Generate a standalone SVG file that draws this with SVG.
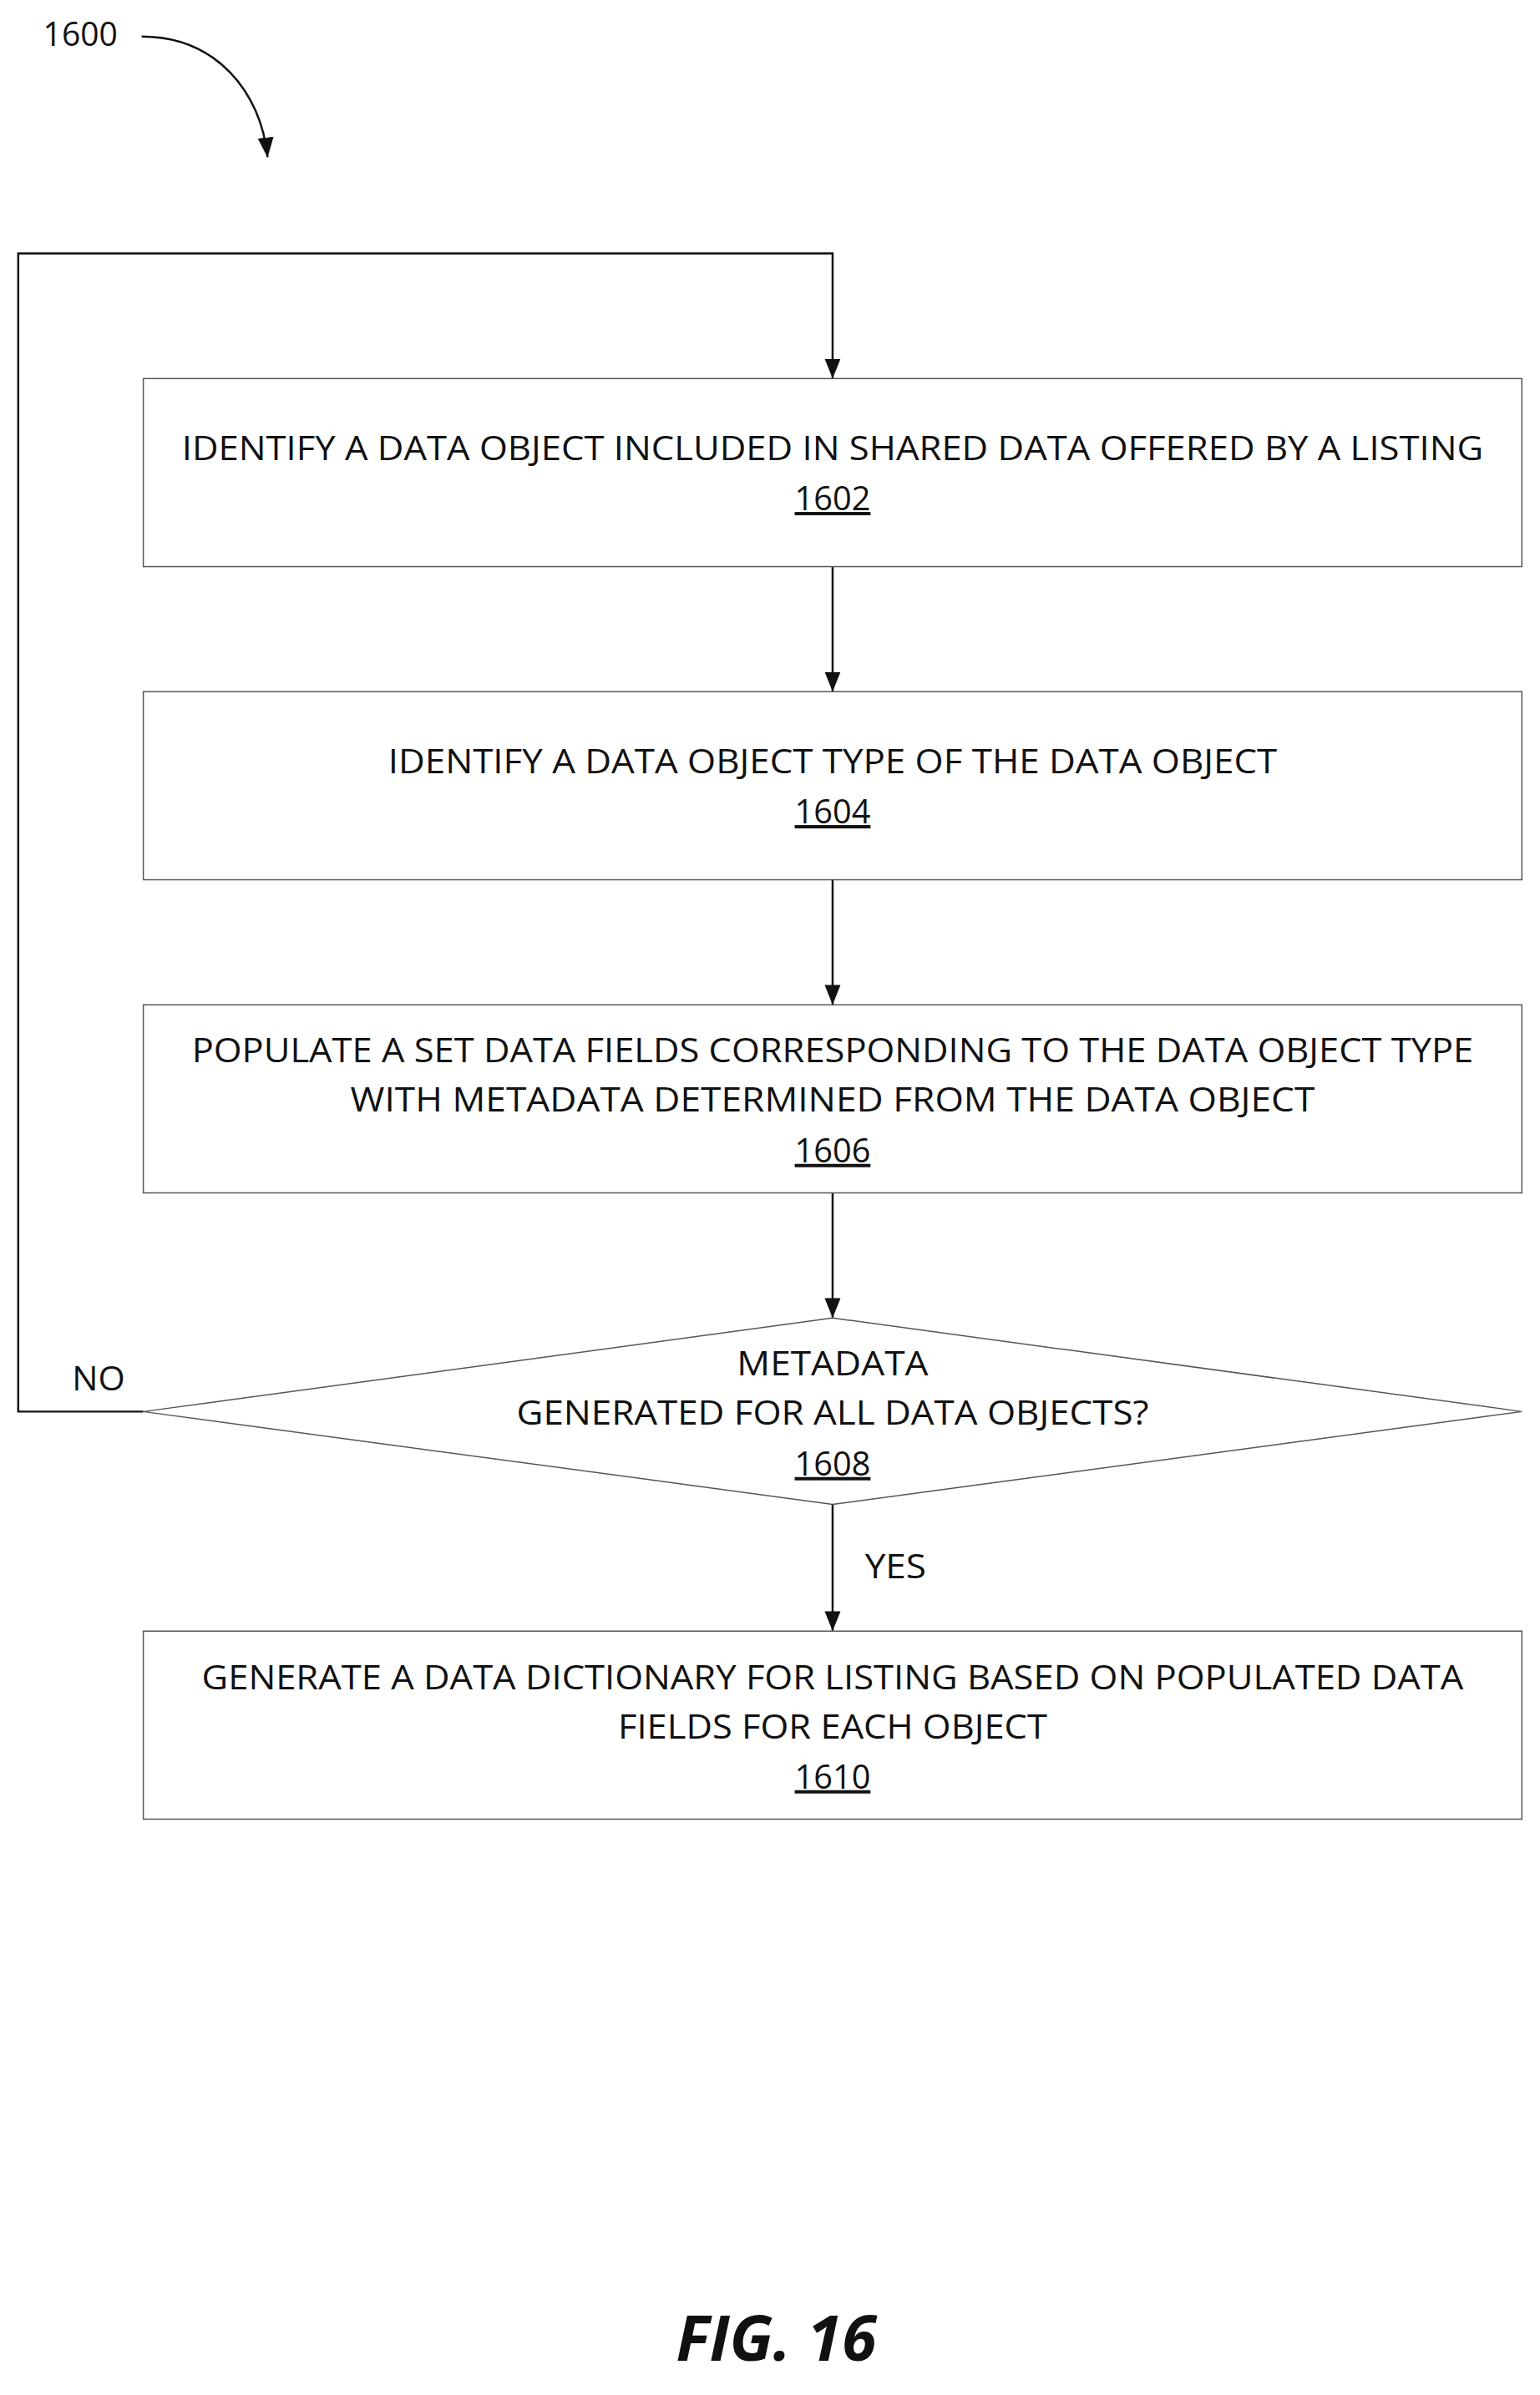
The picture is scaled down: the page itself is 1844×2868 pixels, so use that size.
<svg xmlns="http://www.w3.org/2000/svg" width="1844" height="2868" viewBox="0 0 1844 2868">
<style>
.b{fill:#fff;stroke:#555;stroke-width:1.5}
.t{font-family:"Open Sans","Liberation Sans",sans-serif;font-size:40px;fill:#111;text-anchor:middle}
.n{text-decoration:underline}
.c{fill:none;stroke:#111;stroke-width:2.5}
</style>
<defs>
<marker id="m" viewBox="0 0 10 10" refX="10" refY="5" markerWidth="24" markerHeight="24" markerUnits="userSpaceOnUse" orient="auto"><path d="M0,1 L10,5 L0,9 z" fill="#111"/></marker></defs>
<g transform="scale(0.992)">
<text class="t" x="97" y="55" textLength="90" lengthAdjust="spacingAndGlyphs">1600</text>
<g id="connectors">
<path class="c" d="M171,44 C260,44 315,110 323,190" marker-end="url(#m)"/>
<path class="c" d="M173,1704 H22 V306 H1005 V457" marker-end="url(#m)"/>
<path class="c" d="M1005,684 V835" marker-end="url(#m)"/>
<path class="c" d="M1005,1062 V1213" marker-end="url(#m)"/>
<path class="c" d="M1005,1440 V1591" marker-end="url(#m)"/>
<path class="c" d="M1005,1816 V1969" marker-end="url(#m)"/>
<text class="t" x="119" y="1678" textLength="64" lengthAdjust="spacingAndGlyphs">NO</text>
<text class="t" x="1081" y="1905" textLength="74" lengthAdjust="spacingAndGlyphs">YES</text>
</g>
<g id="n1602"><rect class="b" x="173" y="457" width="1664" height="227"/>
<text class="t" x="1005" y="555" textLength="1571" lengthAdjust="spacingAndGlyphs">IDENTIFY A DATA OBJECT INCLUDED IN SHARED DATA OFFERED BY A LISTING</text>
<text class="t n" x="1005" y="616">1602</text></g>
<g id="n1604"><rect class="b" x="173" y="835" width="1664" height="227"/>
<text class="t" x="1005" y="933" textLength="1073" lengthAdjust="spacingAndGlyphs">IDENTIFY A DATA OBJECT TYPE OF THE DATA OBJECT</text>
<text class="t n" x="1005" y="994">1604</text></g>
<g id="n1606"><rect class="b" x="173" y="1213" width="1664" height="227"/>
<text class="t" x="1005" y="1282" textLength="1547" lengthAdjust="spacingAndGlyphs">POPULATE A SET DATA FIELDS CORRESPONDING TO THE DATA OBJECT TYPE</text>
<text class="t" x="1005" y="1342" textLength="1164" lengthAdjust="spacingAndGlyphs">WITH METADATA DETERMINED FROM THE DATA OBJECT</text>
<text class="t n" x="1005" y="1403">1606</text></g>
<g id="n1608"><polygon class="b" points="1005,1591 1837,1704 1005,1816 173,1704"/>
<text class="t" x="1005" y="1660" textLength="231" lengthAdjust="spacingAndGlyphs">METADATA</text>
<text class="t" x="1005" y="1720" textLength="763" lengthAdjust="spacingAndGlyphs">GENERATED FOR ALL DATA OBJECTS?</text>
<text class="t n" x="1005" y="1781">1608</text></g>
<g id="n1610"><rect class="b" x="173" y="1969" width="1664" height="227"/>
<text class="t" x="1005" y="2039" textLength="1523" lengthAdjust="spacingAndGlyphs">GENERATE A DATA DICTIONARY FOR LISTING BASED ON POPULATED DATA</text>
<text class="t" x="1005" y="2099" textLength="518" lengthAdjust="spacingAndGlyphs">FIELDS FOR EACH OBJECT</text>
<text class="t n" x="1005" y="2159">1610</text></g>
<text x="937" y="2850" font-family="'Open Sans','Liberation Sans',sans-serif" font-size="76" font-weight="bold" font-style="italic" text-anchor="middle" fill="#111">FIG. 16</text>
</g>
</svg>
